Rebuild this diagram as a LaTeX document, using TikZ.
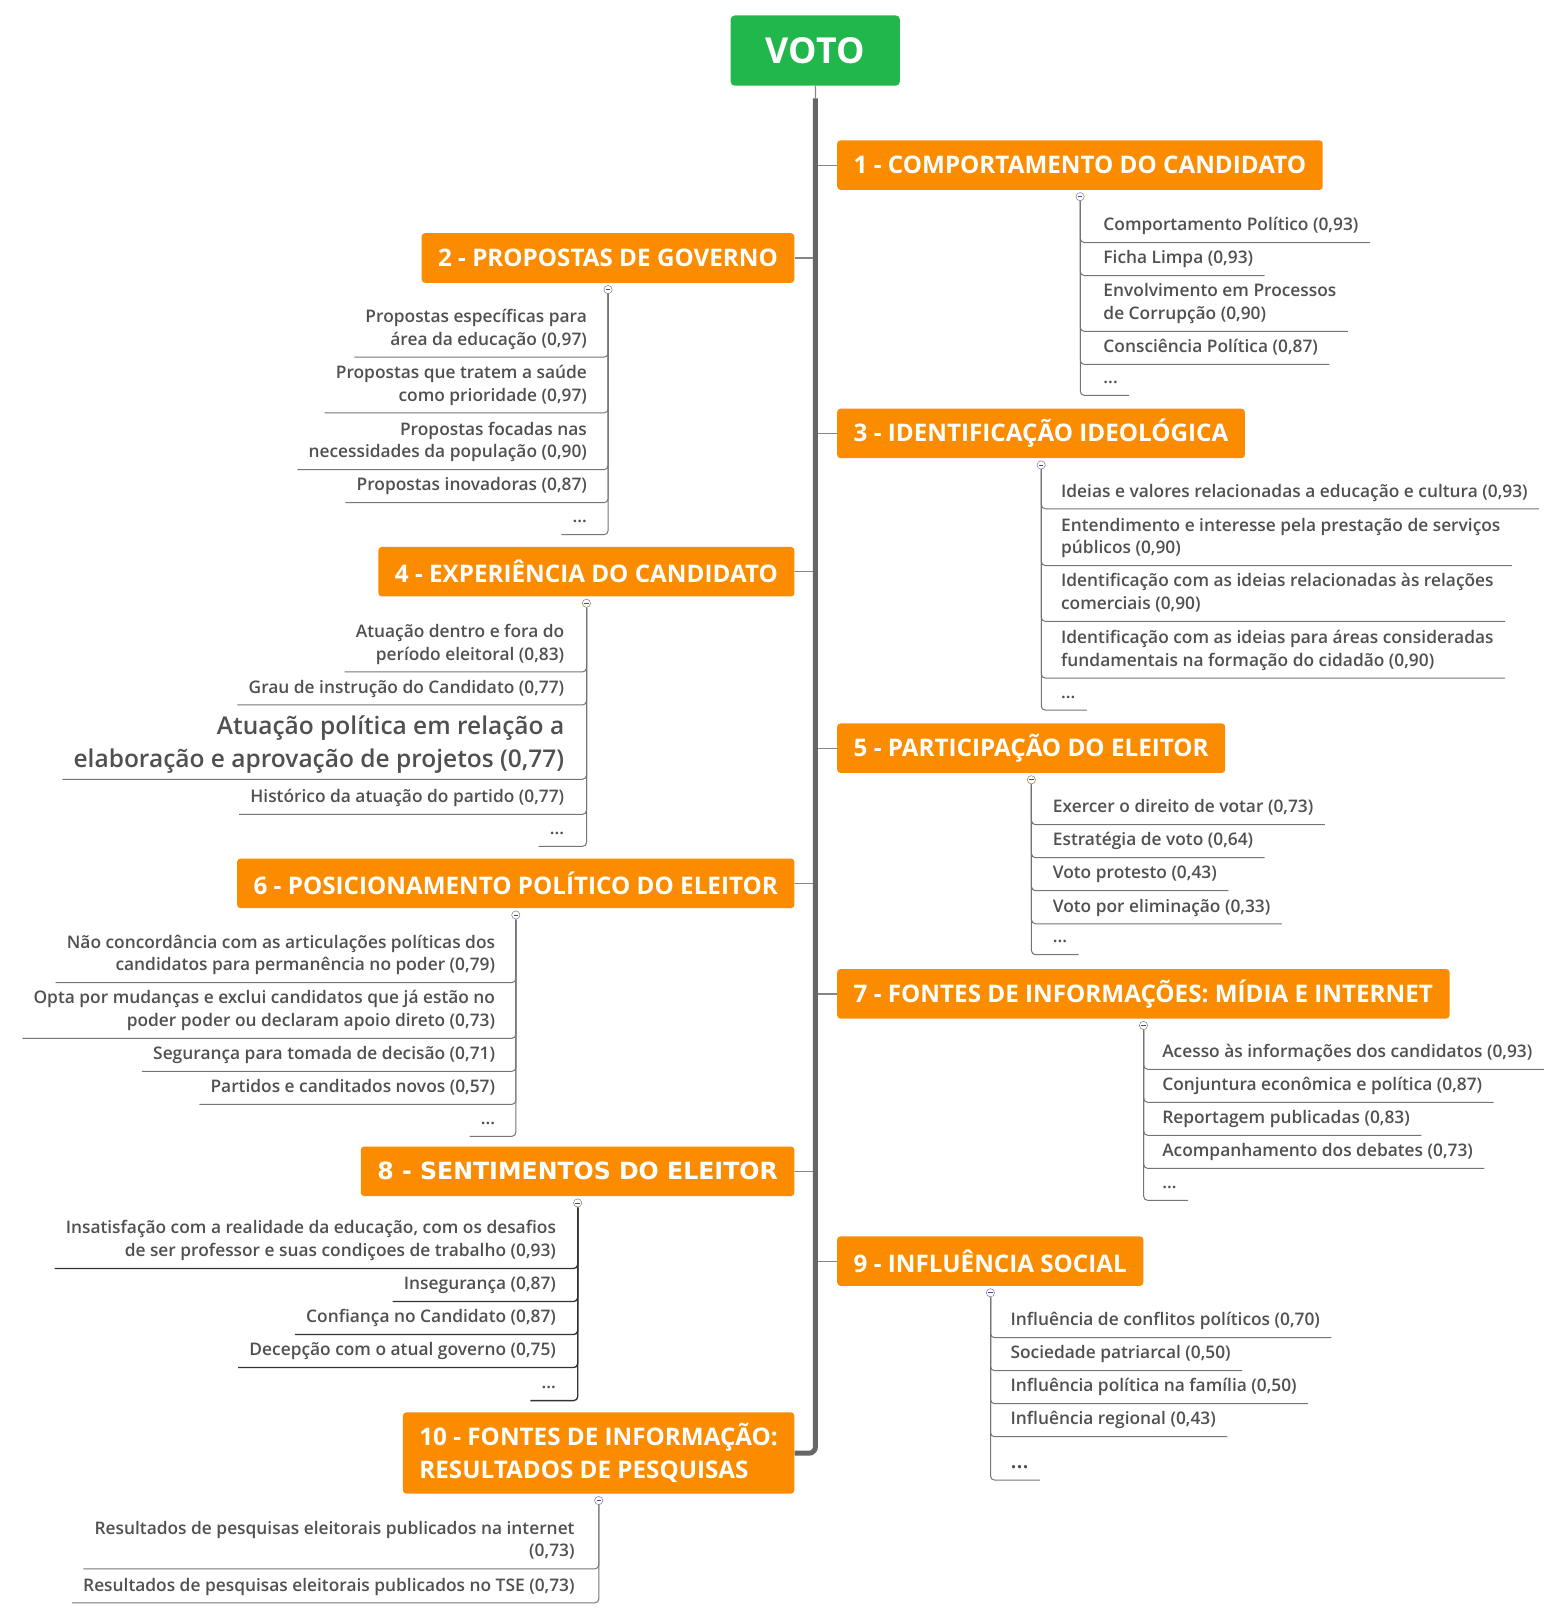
\documentclass[tikz,border=0pt]{standalone}
\usepackage{fontspec}
\setmainfont{Open Sans}
% leaf font: semibold if there is one, else an emboldened regular
\IfFontExistsTF{Open Sans SemiBold}{\newfontfamily\itemfont{Open Sans SemiBold}\def\leafpt{12.6}\def\bigpt{17.8}}{%
\IfFontExistsTF{Open Sans Semibold}{\newfontfamily\itemfont{Open Sans Semibold}\def\leafpt{12.6}\def\bigpt{17.8}}{%
\IfFontExistsTF{OpenSans-Semibold.ttf}{\newfontfamily\itemfont{OpenSans-Semibold.ttf}\def\leafpt{12.6}\def\bigpt{17.8}}{%
\IfFontExistsTF{OpenSans-SemiBold.ttf}{\newfontfamily\itemfont{OpenSans-SemiBold.ttf}\def\leafpt{12.6}\def\bigpt{17.8}}{%
\newfontfamily\itemfont{Open Sans}[FakeBold=1.3]\def\leafpt{13.1}\def\bigpt{18.6}}}}}
\newfontfamily\dejafont{DejaVu Sans}
\usetikzlibrary{positioning}
\definecolor{votogreen}{HTML}{22B74C}
\definecolor{toporange}{HTML}{FB8C00}
\definecolor{itemgray}{HTML}{505050}
\definecolor{linegray}{HTML}{666666}
\tikzset{
	rootstyle/.style={rectangle,rounded corners=3pt,fill=votogreen,text=white,font=\bfseries\fontsize{26}{30}\selectfont,minimum width=123pt,minimum height=51pt},
	topicstyle/.style={rectangle,rounded corners=2.5pt,fill=toporange,text=white,font=\bfseries\fontsize{17.6}{24}\selectfont,minimum height=36pt,inner xsep=12pt},
	leafstyle/.style={inner xsep=0pt,inner ysep=4pt,text depth=4.25pt,text=itemgray,font=\itemfont\fontsize{\leafpt}{16.5}\selectfont},
	rightleaf/.style={leafstyle,anchor=south west,align=left},
	leftleaf/.style={leafstyle,anchor=south east,align=right},
	knobstyle/.style={circle,draw=gray,fill=white,inner sep=0pt,minimum size=6pt,
		path picture={\draw[blue!50!gray,line width=0.6pt] ([xshift=-1.6pt]path picture bounding box.center) -- ([xshift=1.6pt]path picture bounding box.center);}},
	trunkstyle/.style={draw=linegray,line width=3.75pt},
	branchstyle/.style={draw=linegray!80,line width=0.9pt},
	twigstyle/.style={draw=linegray!90,line width=0.75pt,rounded corners=3pt}
}
\begin{document}
\begin{tikzpicture}[x=0.75pt,y=-0.75pt,scale=1.032,every node/.append style={transform shape}]
	\useasboundingbox (0,0) rectangle (1513.6,1566.9);
	% root and topics
	\node[rootstyle] (root) at (790,49) {VOTO};
	\node[topicstyle,anchor=west] (h1) at (811,160) {1 - COMPORTAMENTO DO CANDIDATO};
	\node[topicstyle,anchor=east] (h2) at (770,250) {2 - PROPOSTAS DE GOVERNO};
	\node[topicstyle,anchor=west] (h3) at (811,420) {3 - IDENTIFICAÇÃO IDEOLÓGICA};
	\node[topicstyle,anchor=east] (h4) at (770,554) {4 - EXPERIÊNCIA DO CANDIDATO};
	\node[topicstyle,anchor=west] (h5) at (811,725) {5 - PARTICIPAÇÃO DO ELEITOR};
	\node[topicstyle,anchor=east] (h6) at (770,856) {6 - POSICIONAMENTO POLÍTICO DO ELEITOR};
	\node[topicstyle,anchor=west] (h7) at (811,963) {7 - FONTES DE INFORMAÇÕES: MÍDIA E INTERNET};
	\node[topicstyle,anchor=east,font=\dejafont\bfseries\fontsize{17.2}{20}\selectfont] (h8) at (770,1135) {8 - SENTIMENTOS DO ELEITOR};
	\node[topicstyle,anchor=west] (h9) at (811,1222) {9 - INFLUÊNCIA SOCIAL};
	\node[topicstyle,anchor=east,align=left,minimum height=59pt] (h10) at (770,1408) {10 - FONTES DE INFORMAÇÃO:\\RESULTADOS DE PESQUISAS};
	% trunk
	\coordinate (t0) at ([yshift=-9pt]root.south);
	\draw[branchstyle] (root.south) -- (t0);
	\foreach \h in {h1,h3,h5,h7,h9}
		\draw[branchstyle] (\h.west) -- (\h.west -| root.south);
	\foreach \h in {h2,h4,h6,h8}
		\draw[branchstyle] (\h.east) -- (\h.east -| root.south);
	\draw[trunkstyle,rounded corners=5pt] (t0) |- (h10.east);
	% knobs
	\foreach \i in {1,...,10}
		\node[knobstyle,below=1.5pt of h\i] (k\i) {};

	% 1
	\node[rightleaf] (c11) at (1069,235) {Comportamento Político (0,93)};
	\node[rightleaf] (c12) at (1069,267) {Ficha Limpa (0,93)};
	\node[rightleaf] (c13) at (1069,321) {Envolvimento em Processos\\de Corrupção (0,90)};
	\node[rightleaf] (c14) at (1069,353) {Consciência Política (0,87)};
	\node[rightleaf] (c15) at (1069,383) {...};
	\foreach \c in {c11,c12,c13,c14,c15}
		\draw[twigstyle] (k1.south) |- ([xshift=8pt]\c.south east);

	% 2
	\node[leftleaf] (c21) at (569,346) {Propostas específicas para\\área da educação (0,97)};
	\node[leftleaf] (c22) at (569,400) {Propostas que tratem a saúde\\como prioridade (0,97)};
	\node[leftleaf] (c23) at (569,455) {Propostas focadas nas\\necessidades da população (0,90)};
	\node[leftleaf] (c24) at (569,487) {Propostas inovadoras (0,87)};
	\node[leftleaf] (c25) at (569,518) {...};
	\foreach \c in {c21,c22,c23,c24,c25}
		\draw[twigstyle] (k2.south) |- ([xshift=-8pt]\c.south west);

	% 3
	\node[rightleaf] (c31) at (1028,493) {Ideias e valores relacionadas a educação e cultura (0,93)};
	\node[rightleaf] (c32) at (1028,548) {Entendimento e interesse pela prestação de serviços\\públicos (0,90)};
	\node[rightleaf] (c33) at (1028,602) {Identificação com as ideias relacionadas às relações\\comerciais (0,90)};
	\node[rightleaf] (c34) at (1028,657) {Identificação com as ideias para áreas consideradas\\fundamentais na formação do cidadão (0,90)};
	\node[rightleaf] (c35) at (1028,688) {...};
	\foreach \c in {c31,c32,c33,c34,c35}
		\draw[twigstyle] (k3.south) |- ([xshift=8pt]\c.south east);

	% 4
	\node[leftleaf] (c41) at (547,651) {Atuação dentro e fora do\\período eleitoral (0,83)};
	\node[leftleaf] (c42) at (547,683) {Grau de instrução do Candidato (0,77)};
	\node[leftleaf,font=\itemfont\fontsize{\bigpt}{24}\selectfont] (c43) at (547,755) {Atuação política em relação a\\elaboração e aprovação de projetos (0,77)};
	\node[leftleaf] (c44) at (547,789) {Histórico da atuação do partido (0,77)};
	\node[leftleaf] (c45) at (547,820) {...};
	\foreach \c in {c41,c42,c43,c44,c45}
		\draw[twigstyle] (k4.south) |- ([xshift=-8pt]\c.south west);

	% 5
	\node[rightleaf] (c51) at (1020,799) {Exercer o direito de votar (0,73)};
	\node[rightleaf] (c52) at (1020,831) {Estratégia de voto (0,64)};
	\node[rightleaf] (c53) at (1020,863) {Voto protesto (0,43)};
	\node[rightleaf] (c54) at (1020,895) {Voto por eliminação (0,33)};
	\node[rightleaf] (c55) at (1020,925) {...};
	\foreach \c in {c51,c52,c53,c54,c55}
		\draw[twigstyle] (k5.south) |- ([xshift=8pt]\c.south east);

	% 6
	\node[leftleaf] (c61) at (480,952) {Não concordância com as articulações políticas dos\\candidatos para permanência no poder (0,79)};
	\node[leftleaf] (c62) at (480,1006) {Opta por mudanças e exclui candidatos que já estão no\\poder poder ou declaram apoio direto (0,73)};
	\node[leftleaf] (c63) at (480,1038) {Segurança para tomada de decisão (0,71)};
	\node[leftleaf] (c64) at (480,1070) {Partidos e canditados novos (0,57)};
	\node[leftleaf] (c65) at (480,1101) {...};
	\foreach \c in {c61,c62,c63,c64,c65}
		\draw[twigstyle] (k6.south) |- ([xshift=-8pt]\c.south west);

	% 7
	\node[rightleaf] (c71) at (1126,1036) {Acesso às informações dos candidatos (0,93)};
	\node[rightleaf] (c72) at (1126,1068) {Conjuntura econômica e política (0,87)};
	\node[rightleaf] (c73) at (1126,1100) {Reportagem publicadas (0,83)};
	\node[rightleaf] (c74) at (1126,1132) {Acompanhamento dos debates (0,73)};
	\node[rightleaf] (c75) at (1126,1163) {...};
	\foreach \c in {c71,c72,c73,c74,c75}
		\draw[twigstyle] (k7.south) |- ([xshift=8pt]\c.south east);

	% 8
	\node[leftleaf] (c81) at (539,1229) {Insatisfação com a realidade da educação, com os desafios\\de ser professor e suas condiçoes de trabalho (0,93)};
	\node[leftleaf] (c82) at (539,1261) {Insegurança (0,87)};
	\node[leftleaf] (c83) at (539,1293) {Confiança no Candidato (0,87)};
	\node[leftleaf] (c84) at (539,1325) {Decepção com o atual governo (0,75)};
	\node[leftleaf] (c85) at (539,1357) {...};
	\foreach \c in {c81,c82,c83,c84,c85}
		\draw[twigstyle,draw=black!80,line width=1pt] (k8.south) |- ([xshift=-8pt]\c.south west);

	% 9
	\node[rightleaf] (c91) at (979,1296) {Influência de conflitos políticos (0,70)};
	\node[rightleaf] (c92) at (979,1328) {Sociedade patriarcal (0,50)};
	\node[rightleaf] (c93) at (979,1360) {Influência política na família (0,50)};
	\node[rightleaf] (c94) at (979,1392) {Influência regional (0,43)};
	\node[rightleaf,font=\itemfont\fontsize{16}{20}\selectfont] (c95) at (979,1434) {...};
	\foreach \c in {c91,c92,c93,c94,c95}
		\draw[twigstyle] (k9.south) |- ([xshift=8pt]\c.south east);

	% 10
	\node[leftleaf] (c101) at (557,1520) {Resultados de pesquisas eleitorais publicados na internet\\(0,73)};
	\node[leftleaf] (c102) at (557,1553) {Resultados de pesquisas eleitorais publicados no TSE (0,73)};
	\foreach \c in {c101,c102}
		\draw[twigstyle] (k10.south) |- ([xshift=-8pt]\c.south west);
\end{tikzpicture}
\end{document}
